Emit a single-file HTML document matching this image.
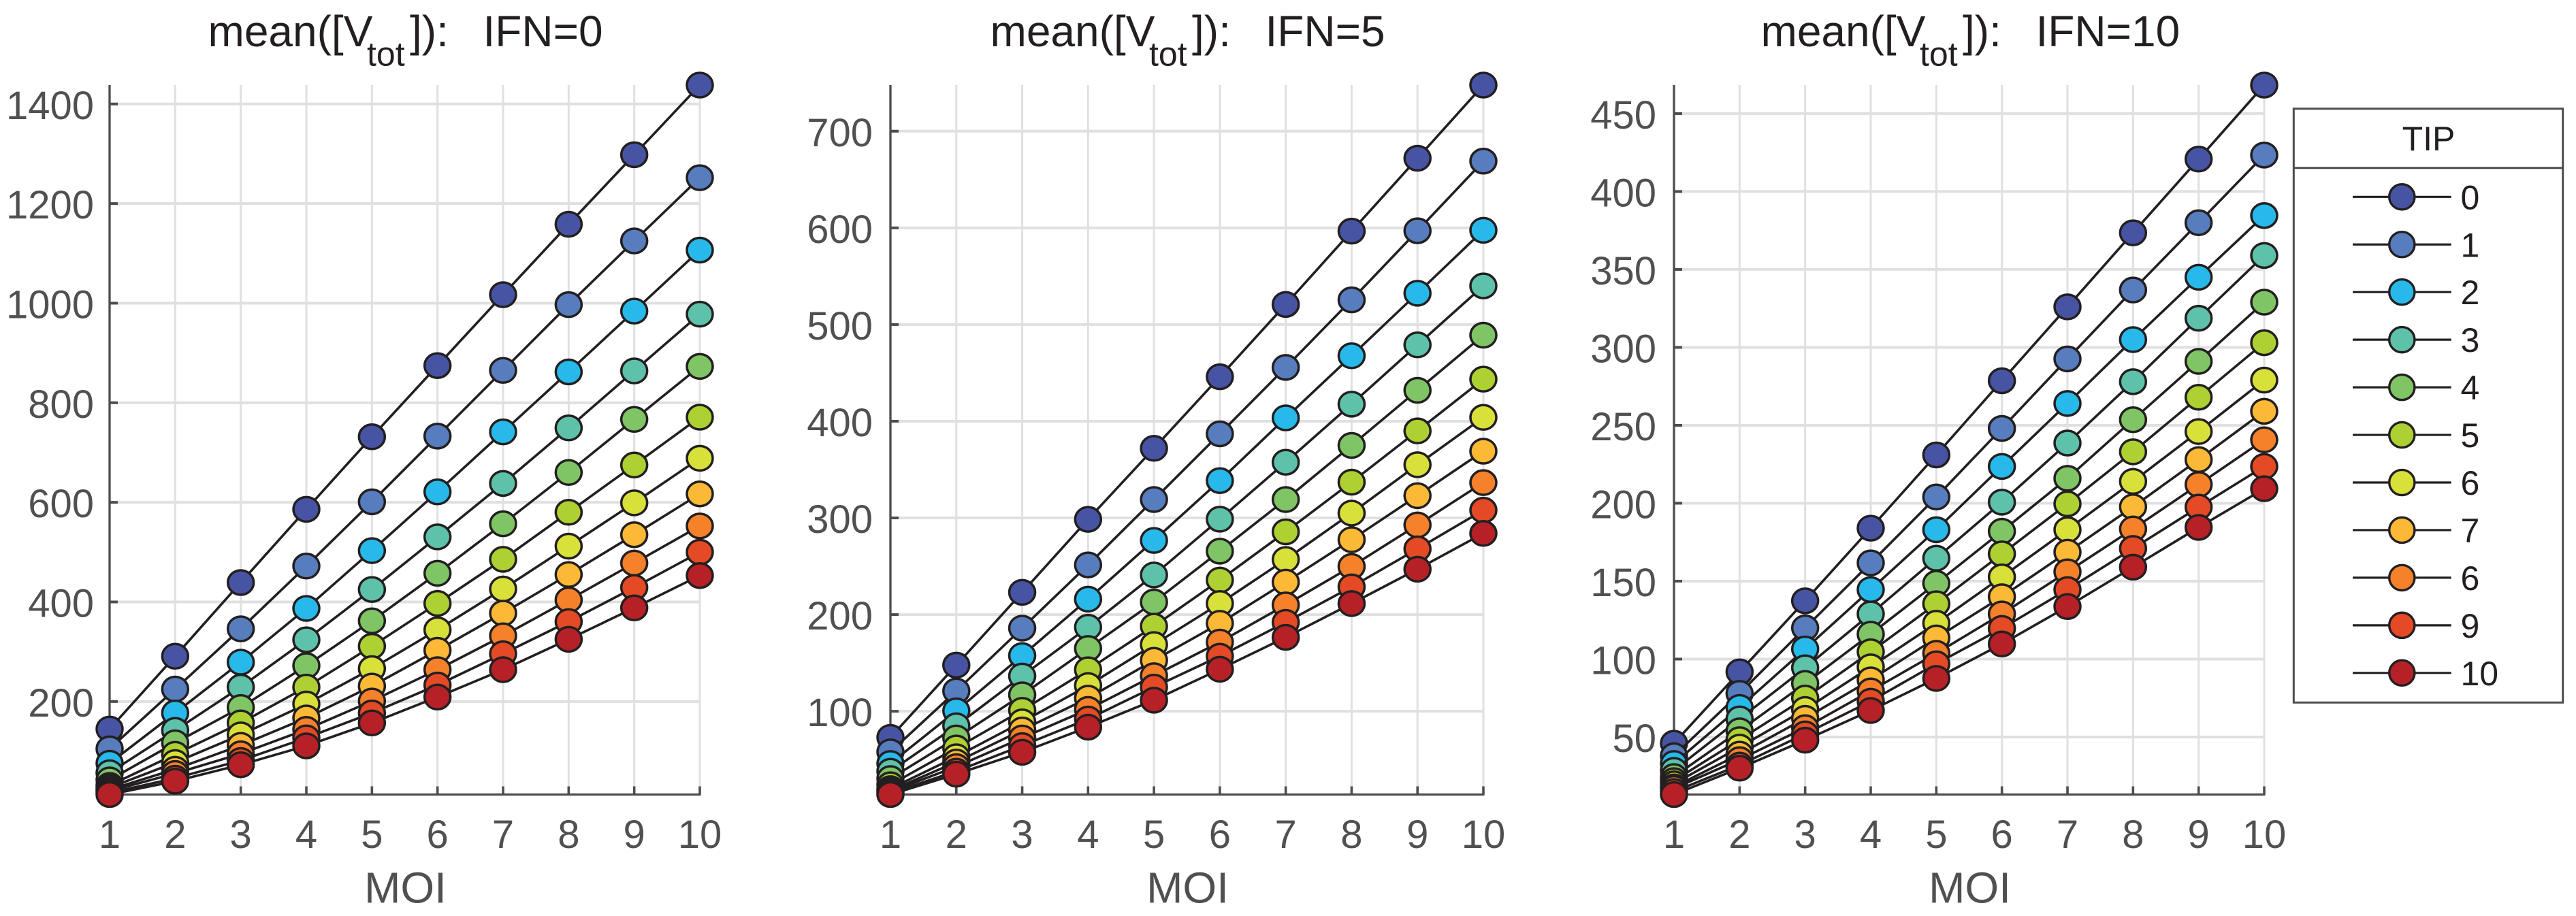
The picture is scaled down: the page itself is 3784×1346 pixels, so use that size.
<!DOCTYPE html>
<html lang="en">
<head>
<meta charset="utf-8">
<title>mean([Vtot]) by MOI and TIP</title>
<style>
html,body{margin:0;padding:0;background:#fff;}
svg{display:block;}
text{font-family:"Liberation Sans",Arial,sans-serif;white-space:pre;}
</style>
</head>
<body>
<svg id="figure" xmlns="http://www.w3.org/2000/svg" width="3784" height="1346" viewBox="0 0 3784 1346"></svg>
<script>
const moiCategories = [1,2,3,4,5,6,7,8,9,10];
const tipLabels = ['0','1','2','3','4','5','6','7','6','9','10'];
const ifnLabels = ['0','5','10'];

const ifn0Ticks = [200,400,600,800,1000,1200,1400];
const ifn5Ticks = [100,200,300,400,500,600,700];
const ifn10Ticks = [50,100,150,200,250,300,350,400,450];

const ifn0Domain = [13.2,1438];
const ifn5Domain = [13.9,747.7];
const ifn10Domain = [13.1,468.3];

const ifn0Series = [
  [144.8,291,439,586,731.7,874.6,1017,1158.5,1298,1438],
  [105,225,346,472,601,733,865,997,1125,1252],
  [76,177,279,387,503,621,741.5,862,984,1106.6],
  [57,142,229,324,425,530.6,638,749.5,864,978],
  [42.6,117,188,272,362,457.5,557,660,766.6,873],
  [31.4,94,157,229,311,397,485.6,580,675,771],
  [27,77.5,133,195,266,344,426,512,599,688.5],
  [23,64,112,167,231,303,377.5,455,535,617],
  [20,55.6,95,144,201,264,332,404,478,552.6],
  [16.5,46,81.6,127,177,233,296,360.5,429,500],
  [13.2,40,73,111,157,209,264,325,388,453]
];
const ifn5Series = [
  [73,147.7,223,298.5,372,446,520.8,596.6,672,747.7],
  [58,121,186,251.4,319,387,455.7,525.5,597,669],
  [46,100.5,157.6,216,276.7,338.6,403.5,467.7,532.4,597.5],
  [38,85,136.5,187,241,298.7,357.6,417.7,479,540],
  [30.4,72.4,117,165,213,265.6,319,375,432,489],
  [24,62,101,143,188,235.7,285.6,337,390,443.5],
  [20,53,89,126.6,169,211.5,257,305,355,404],
  [18,47.5,80.7,113.6,152.7,191,233.6,277.5,323,369],
  [16.8,42.8,72.4,102,136.8,171.6,210,249.8,292.7,336.5],
  [15.4,38,64.5,92,125,157,192,228.7,268,308],
  [13.9,35,57.6,83.6,111.5,143.5,176.5,211.4,247,284]
];
const ifn10Series = [
  [46,91.8,137.4,184,231,278.6,326,373.5,420.8,468.3],
  [38,78,120,161.7,204,248,292.6,336.8,380,423.4],
  [33,69,106.5,144.6,183,223.6,264,305,345,384.6],
  [28.6,61.6,94.4,129,164.7,200.7,238.6,278,318.7,359],
  [24.6,54,84.4,116,148.6,182,216,253.6,291,329],
  [22,48.3,75,104.7,135.5,167.5,199.6,233,268,303],
  [20,43.5,67.7,95,123,152.7,183,214,246,279],
  [18,39,62,86.7,113.6,140,168.6,197.7,228,259],
  [17,35.5,56,79.6,103.7,129,156,183.5,212,240.7],
  [15,32,52,73,97,119.7,144.6,171,197.5,223.6],
  [13.1,30,48,67,87.6,109.7,133.7,159,184.5,209.3]
];

const tipPalette = ['#4754a3','#577dbe','#27b9ea','#5dc2a9','#7fc566','#add033','#d8e03a','#fbb936','#f6812b','#e34a25','#b52126'];
const INK = '#231f20', AXIS = '#4d4d4f', LABEL = '#505052', GRID = '#e0e0e2';
const PLOT_TOP = 125, PLOT_BOTTOM = 1167.5;

const panels = [
  {ifn: ifnLabels[0], ticks: ifn0Ticks, domain: ifn0Domain, series: ifn0Series, left: 161, right: 1028, labelGap: 23},
  {ifn: ifnLabels[1], ticks: ifn5Ticks, domain: ifn5Domain, series: ifn5Series, left: 1308, right: 2179, labelGap: 26},
  {ifn: ifnLabels[2], ticks: ifn10Ticks, domain: ifn10Domain, series: ifn10Series, left: 2459, right: 3326, labelGap: 26}
];

const NS = 'http://www.w3.org/2000/svg';
const figure = document.getElementById('figure');

function make(parent, tag, attrs, text) {
  const el = document.createElementNS(NS, tag);
  for (const key in attrs) el.setAttribute(key, attrs[key]);
  if (text !== undefined) el.textContent = text;
  parent.appendChild(el);
  return el;
}

panels.forEach(function (panel) {
  const xScale = function (moi) {
    return panel.left + (moi - moiCategories[0]) / (moiCategories[moiCategories.length - 1] - moiCategories[0]) * (panel.right - panel.left);
  };
  const yScale = function (value) {
    return PLOT_BOTTOM - (value - panel.domain[0]) / (panel.domain[1] - panel.domain[0]) * (PLOT_BOTTOM - PLOT_TOP);
  };

  const group = make(figure, 'g', {});
  
  

  moiCategories.forEach(function (moi) {
    const gridX = make(group, 'line', {x1: xScale(moi), x2: xScale(moi), y1: PLOT_TOP, y2: PLOT_BOTTOM, stroke: GRID, 'stroke-width': 3});
    
    
  });
  panel.ticks.forEach(function (tick) {
    const gridY = make(group, 'line', {x1: panel.left, x2: panel.right, y1: yScale(tick), y2: yScale(tick), stroke: GRID, 'stroke-width': 4});
    
    
  });

  moiCategories.forEach(function (moi) {
    const tickX = make(group, 'line', {x1: xScale(moi), x2: xScale(moi), y1: PLOT_BOTTOM, y2: PLOT_BOTTOM - 12, stroke: AXIS, 'stroke-width': 3.6});
    
    
    const labelX = make(group, 'text', {x: xScale(moi), y: 1246, 'text-anchor': 'middle', 'font-size': 58, fill: LABEL}, String(moi));
    
    
  });
  panel.ticks.forEach(function (tick) {
    const tickY = make(group, 'line', {x1: panel.left, x2: panel.left + 12, y1: yScale(tick), y2: yScale(tick), stroke: AXIS, 'stroke-width': 4});
    
    
    const labelY = make(group, 'text', {x: panel.left - panel.labelGap, y: yScale(tick) + 22, 'text-anchor': 'end', 'font-size': 58, fill: LABEL}, String(tick));
    
    
  });

  const yAxis = make(group, 'line', {x1: panel.left, x2: panel.left, y1: PLOT_TOP, y2: PLOT_BOTTOM + 1.5, stroke: AXIS, 'stroke-width': 3.3});
  
  
  const xAxis = make(group, 'line', {x1: panel.left, x2: panel.right + 1.5, y1: PLOT_BOTTOM, y2: PLOT_BOTTOM, stroke: AXIS, 'stroke-width': 3.3});
  
  

  const midX = (panel.left + panel.right) / 2;
  const xTitle = make(group, 'text', {x: midX + 1, y: 1326.5, 'text-anchor': 'middle', 'font-size': 64, fill: LABEL}, 'MOI');
  
  

  const titleStart = midX - 289 - (panel.ifn.length - 1) * 17;
  const title = make(group, 'text', {x: titleStart, y: 68, 'font-size': 64, fill: INK});
  
  
  make(title, 'tspan', {x: titleStart, y: 68}, 'mean([V');
  make(title, 'tspan', {x: titleStart + 233.5, y: 96.5, 'font-size': 50}, 'tot');
  make(title, 'tspan', {x: titleStart + 296.5, y: 68}, ']):');
  make(title, 'tspan', {x: titleStart + 404, y: 68}, 'IFN=' + panel.ifn);

  panel.series.forEach(function (values, tipIndex) {
    const seriesGroup = make(group, 'g', {});
    
    
    const points = values.map(function (value, i) { return xScale(moiCategories[i]) + ',' + yScale(value); }).join(' ');
    const line = make(seriesGroup, 'polyline', {points: points, fill: 'none', stroke: INK, 'stroke-width': 3.6});
    
    
    values.forEach(function (value, i) {
      const dot = make(seriesGroup, 'ellipse', {cx: xScale(moiCategories[i]), cy: yScale(value), rx: 19, ry: 18, fill: tipPalette[tipIndex], stroke: INK, 'stroke-width': 3.5});
      
      
    });
  });
});

const legend = make(figure, 'g', {});


const legendBox = make(legend, 'rect', {x: 3369.3, y: 159.7, width: 395.4, height: 872.6, fill: '#fff', stroke: AXIS, 'stroke-width': 3});


const legendDivider = make(legend, 'line', {x1: 3369.3, x2: 3764.7, y1: 246.7, y2: 246.7, stroke: AXIS, 'stroke-width': 3});


const legendTitle = make(legend, 'text', {x: 3567.5, y: 221, 'text-anchor': 'middle', 'font-size': 50, fill: INK}, 'TIP');



tipLabels.forEach(function (label, i) {
  const rowY = 289.3 + i * 69.95;
  const entry = make(legend, 'g', {});
  
  
  const swatchLine = make(entry, 'line', {x1: 3456, x2: 3600.7, y1: rowY, y2: rowY, stroke: INK, 'stroke-width': 3.2});
  
  
  const swatchDot = make(entry, 'circle', {cx: 3528.3, cy: rowY, r: 18.6, fill: tipPalette[i], stroke: INK, 'stroke-width': 3.4});
  
  
  const entryText = make(entry, 'text', {x: 3614.5, y: rowY + 18, 'font-size': 50, fill: INK}, label);
  
  
});
</script>
</body>
</html>
